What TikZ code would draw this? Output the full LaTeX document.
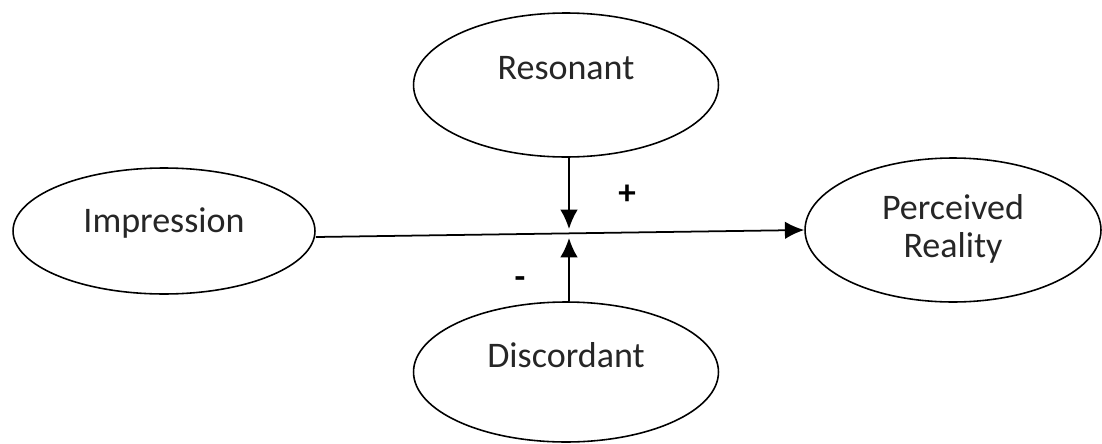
\documentclass[tikz,border=0pt]{standalone}
\usepackage{fontspec}
\setmainfont{Carlito}
\usepackage{tikz}
\usetikzlibrary{arrows.meta,shapes.geometric}
\tikzset{>={Latex[length=11pt,width=10pt]}}
\tikzset{
	bubble/.style={
			draw, ellipse, line width=0.9pt, inner sep=0pt
		},
	tag/.style={
			text=black!85, align=center,
			font=\fontsize{20.5}{21.5}\selectfont
		},
	link/.style={->, line width=1pt}
}

\begin{document}
\begin{tikzpicture}[x=0.02cm,y=-0.02cm]
			\useasboundingbox (0,0) rectangle (1102,443);

			% Variables
			\node [bubble, minimum width=6.1cm, minimum height=2.88cm,
				label={[tag, yshift=0.34cm]center:Resonant}] (res) at (566,85) {};
			\node [bubble, minimum width=6.04cm, minimum height=2.52cm,
				label={[tag, yshift=0.16cm]center:Impression}] (imp) at (164,231) {};
			\node [bubble, minimum width=5.92cm, minimum height=2.88cm,
				label={[tag, yshift=0.02cm]center:Perceived\\Reality}] (per) at (953,230) {};
			\node [bubble, minimum width=6.1cm, minimum height=2.8cm,
				label={[tag, yshift=0.34cm]center:Discordant}] (dis) at (566,372) {};

			% Meeting point on the main path
			\coordinate (Mt) at (569,229);
			\coordinate (Mb) at (569,238);

			% Main path
			\draw [link] ([yshift=-0.12cm]imp.east) -- (per.west);

			% Moderators
			\draw [link] (res.south -| Mt) -- (Mt);
			\draw [link] (dis.north -| Mb) -- (Mb);

			% Signs
			\node [font=\fontsize{20}{24}\selectfont\bfseries] (plus) at (627,195) {+};
			\node [font=\fontsize{20}{24}\selectfont\bfseries] (minus) at (520,283) {-};
		\end{tikzpicture}
\end{document}
